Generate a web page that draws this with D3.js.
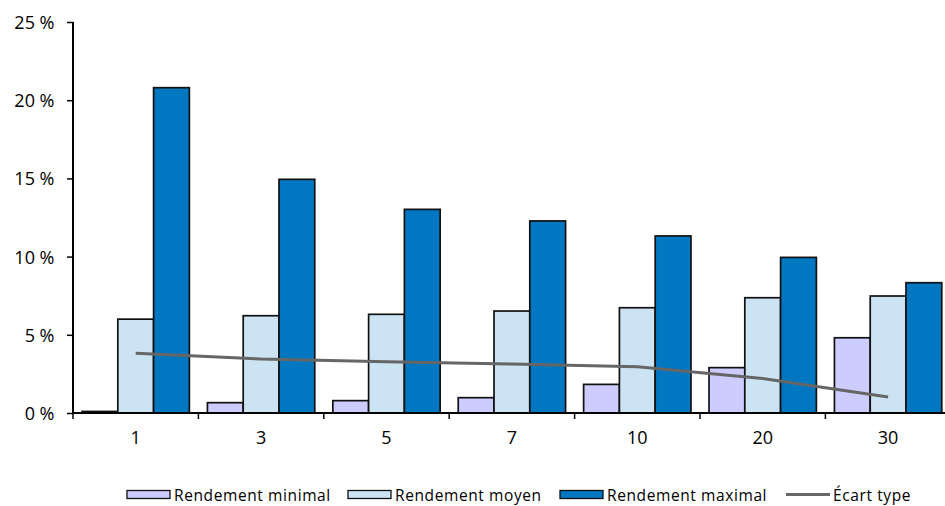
<!DOCTYPE html>
<html><head><meta charset="utf-8">
<script src="https://cdn.jsdelivr.net/npm/d3@7"></script>
<style>body{margin:0;background:#fff}svg{display:block}text{font-family:"Open Sans",sans-serif;fill:#000}</style>
</head><body>
<script>
const categories = ["1","3","5","7","10","20","30"];
const seriesNames = ["Rendement minimal","Rendement moyen","Rendement maximal"];
const rendementMinimal = [0.1,0.66,0.79,0.98,1.83,2.9,4.81];
const rendementMoyen = [6.0,6.22,6.31,6.52,6.73,7.37,7.48];
const rendementMaximal = [20.8,14.94,13.02,12.28,11.32,9.95,8.33];
const ecartType = [3.82,3.45,3.28,3.13,2.96,2.2,1.02];
const lineName = "Écart type";
const yTicks = [0,5,10,15,20,25];
const colors = ["#ccccff","#cce3f3","#0077c0"];

const W=945,H=506;
const svg=d3.select("body").append("svg").attr("width",W).attr("height",H);
const left=73, band=125.4;
const x0=d3.scaleBand().domain(categories).range([left,left+band*categories.length]).padding(0);
const bw=x0.bandwidth();
const x1=d3.scaleBand().domain(seriesNames).range([bw*0.072,bw*0.928]).padding(0);
const y=d3.scaleLinear().domain([0,25]).range([413,22]);

const seriesVals=[rendementMinimal,rendementMoyen,rendementMaximal];
const data=[];
categories.forEach((c,i)=>seriesNames.forEach((s,j)=>data.push({c,s,j,v:seriesVals[j][i]})));

svg.append("g").selectAll("rect").data(data).join("rect")
 .attr("x",d=>x0(d.c)+x1(d.s)).attr("y",d=>y(d.v))
 .attr("width",x1.bandwidth()).attr("height",d=>y(0)-y(d.v))
 .attr("fill",d=>colors[d.j]).attr("stroke","#111").attr("stroke-width",1.7);

// std line
const line=d3.line().x((d,i)=>x0(categories[i])+x1(seriesNames[1])+x1.bandwidth()/2).y(d=>y(d));
svg.append("path").datum(ecartType).attr("d",line).attr("fill","none").attr("stroke","#666").attr("stroke-width",3);

// y axis
const ya=svg.append("g").attr("transform",`translate(${left},0)`)
 .call(d3.axisLeft(y).tickValues(yTicks).tickSize(6).tickPadding(12).tickFormat(d=>d+" %"));
ya.select(".domain").attr("stroke","#000").attr("stroke-width",2).attr("d",`M0,${y(0)}V${y(25)}`);
ya.selectAll(".tick line").attr("stroke","#000").attr("stroke-width",1.5);
ya.selectAll(".tick text").style("font-size","18px").attr("fill","#000").attr("dy","0.36em").attr("x",-18.5);

// x axis
const xa=svg.append("g").attr("transform",`translate(0,${y(0)})`)
 .call(d3.axisBottom(x0).tickSize(0).tickPadding(18.5));
xa.select(".domain").attr("stroke","#000").attr("stroke-width",2).attr("d",`M${left},0H${left+band*categories.length}`);
xa.selectAll(".tick text").style("font-size","18px").attr("fill","#000");
xa.selectAll("line.sep").data(categories).join("line").attr("class","sep")
 .attr("x1",d=>x0(d)).attr("x2",d=>x0(d)).attr("y1",0).attr("y2",6).attr("stroke","#000").attr("stroke-width",1.5);

// legend
const leg=svg.append("g");
const items=[{n:seriesNames[0],t:"rect",c:colors[0],x:127},{n:seriesNames[1],t:"rect",c:colors[1],x:348},{n:seriesNames[2],t:"rect",c:colors[2],x:560},{n:lineName,t:"line",x:786}];
items.forEach(it=>{
 if(it.t==="rect") leg.append("rect").attr("x",it.x).attr("y",490.5).attr("width",43).attr("height",8).attr("fill",it.c).attr("stroke","#111").attr("stroke-width",1.3);
 else leg.append("line").attr("x1",it.x).attr("x2",it.x+44).attr("y1",494.5).attr("y2",494.5).attr("stroke","#666").attr("stroke-width",3);
 leg.append("text").attr("x",it.x+47).attr("y",500.5).style("font-size","15.5px").style("letter-spacing","0.6px").text(it.n);
});
</script>
</body></html>
